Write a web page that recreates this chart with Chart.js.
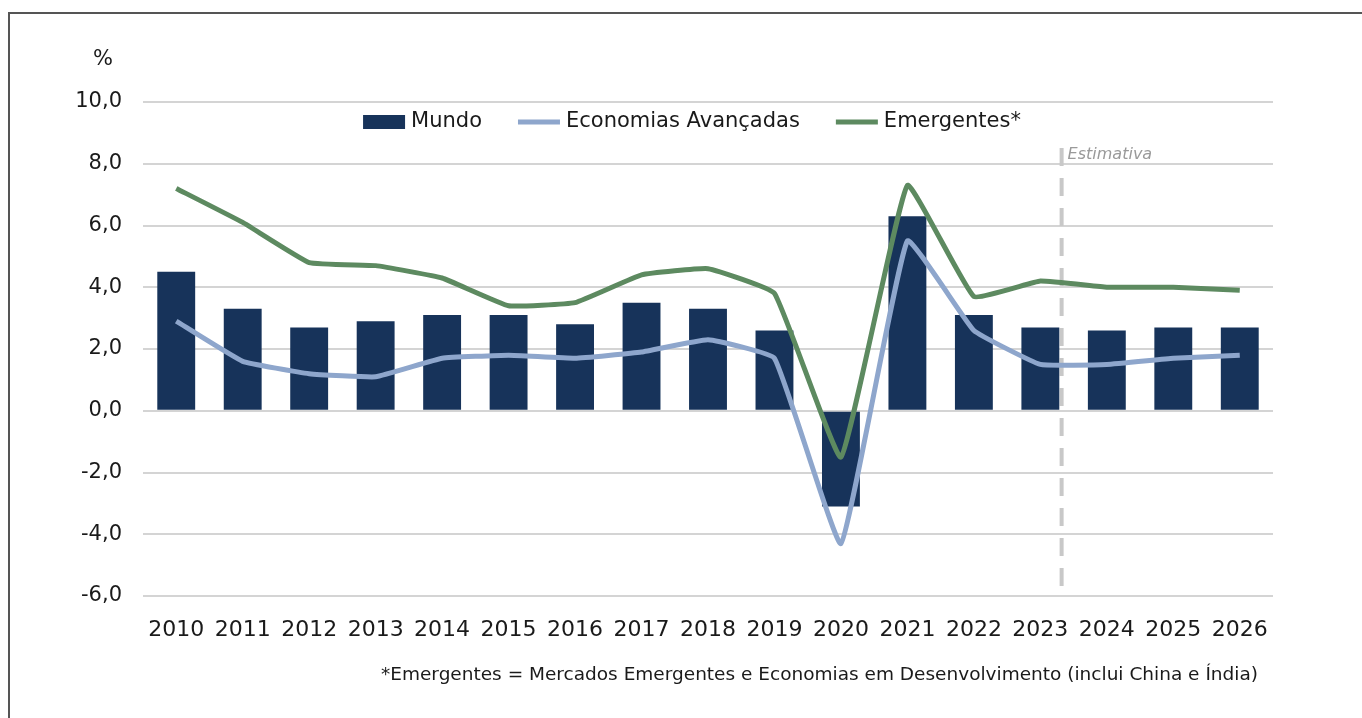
<!DOCTYPE html>
<html>
<head>
<meta charset="utf-8">
<script src="https://cdn.jsdelivr.net/npm/chart.js@4/dist/chart.umd.min.js"></script>
<style>
  html, body { margin: 0; padding: 0; background: #fff; }
  #wrap { width: 1362px; height: 718px; }
</style>
</head>
<body>
<div id="wrap"><canvas id="growth"></canvas></div>
<script>
const years = ["2010","2011","2012","2013","2014","2015","2016","2017","2018","2019","2020","2021","2022","2023","2024","2025","2026"];
const mundo = [4.5, 3.3, 2.7, 2.9, 3.1, 3.1, 2.8, 3.5, 3.3, 2.6, -3.1, 6.3, 3.1, 2.7, 2.6, 2.7, 2.7];
const avancadas = [2.9, 1.6, 1.2, 1.1, 1.7, 1.8, 1.7, 1.9, 2.3, 1.7, -4.3, 5.5, 2.6, 1.5, 1.5, 1.7, 1.8];
const emergentes = [7.2, 6.1, 4.8, 4.7, 4.3, 3.4, 3.5, 4.4, 4.6, 3.8, -1.5, 7.3, 3.7, 4.2, 4.0, 4.0, 3.9];
const yTicks = [-6, -4, -2, 0, 2, 4, 6, 8, 10];
const estimateAfter = 13.32; // between 2023 and 2024
const footnote = "*Emergentes = Mercados Emergentes e Economias em Desenvolvimento (inclui China e Índia)";

const FONT = "'DejaVu Sans', Verdana, sans-serif";

// frame, legend inside the plot, "%" label, estimate marker, footnote
const extras = {
  id: 'extras',
  beforeDraw(chart) {
    const ctx = chart.ctx;
    ctx.save();
    ctx.fillStyle = '#fff';
    ctx.fillRect(0, 0, chart.width, chart.height);
    ctx.strokeStyle = '#555';
    ctx.lineWidth = 2;
    ctx.beginPath();
    ctx.moveTo(chart.width, 13);
    ctx.lineTo(9, 13);
    ctx.lineTo(9, chart.height);
    ctx.stroke();
    ctx.restore();
  },
  beforeDatasetsDraw(chart) {
    const {ctx, chartArea, scales} = chart;
    const x = scales.x.getPixelForValue(estimateAfter);
    ctx.save();
    ctx.strokeStyle = '#c8c8c8';
    ctx.lineWidth = 4;
    ctx.setLineDash([18, 12]);
    ctx.beginPath();
    ctx.moveTo(x, chartArea.top + 46);
    ctx.lineTo(x, chartArea.bottom);
    ctx.stroke();
    ctx.restore();
  },
  afterDraw(chart) {
    const {ctx, chartArea, scales} = chart;
    ctx.save();

    // legend
    const boxW = 42, gap = 6, spacing = 36;
    ctx.font = "21px " + FONT;
    const items = chart.data.datasets.map(ds => ({
      label: ds.label, color: ds.borderColor || ds.backgroundColor, bar: ds.type === 'bar',
      w: boxW + gap + ctx.measureText(ds.label).width
    }));
    const total = items.reduce((s, it) => s + it.w, 0) + spacing * (items.length - 1);
    let lx = (chartArea.left + chartArea.right) / 2 - total / 2 - 16;
    const ly = chartArea.top + 20;
    ctx.textBaseline = 'middle';
    ctx.textAlign = 'left';
    items.forEach(it => {
      if (it.bar) {
        ctx.fillStyle = it.color;
        ctx.fillRect(lx, ly - 7, boxW, 14);
      } else {
        ctx.strokeStyle = it.color;
        ctx.lineWidth = 5;
        ctx.beginPath();
        ctx.moveTo(lx, ly);
        ctx.lineTo(lx + boxW, ly);
        ctx.stroke();
      }
      ctx.fillStyle = '#1a1a1a';
      ctx.fillText(it.label, lx + boxW + gap, ly);
      lx += it.w + spacing;
    });

    ctx.fillStyle = '#1a1a1a';
    ctx.font = "21px " + FONT;
    ctx.textAlign = 'center';
    ctx.fillText('%', chartArea.left - 40, chartArea.top - 42);

    const x = scales.x.getPixelForValue(estimateAfter);
    ctx.fillStyle = '#9a9a9a';
    ctx.font = "italic 16px " + FONT;
    ctx.textAlign = 'left';
    ctx.fillText('Estimativa', x + 6, chartArea.top + 53);

    ctx.fillStyle = '#1a1a1a';
    ctx.font = "18.5px " + FONT;
    ctx.textAlign = 'right';
    ctx.fillText(footnote, chartArea.right - 15, chartArea.bottom + 79);
    ctx.restore();
  }
};

new Chart(document.getElementById('growth'), {
  data: {
    labels: years,
    datasets: [
      {
        type: 'bar',
        label: 'Mundo',
        data: mundo,
        backgroundColor: '#17335a',
        borderWidth: 0,
        barPercentage: 0.57,
        categoryPercentage: 1,
        order: 3
      },
      {
        type: 'line',
        label: 'Economias Avançadas',
        data: avancadas,
        borderColor: '#8ea6cc',
        backgroundColor: '#8ea6cc',
        borderWidth: 5,
        pointRadius: 0,
        tension: 0.1,
        order: 2
      },
      {
        type: 'line',
        label: 'Emergentes*',
        data: emergentes,
        borderColor: '#5d8a60',
        backgroundColor: '#5d8a60',
        borderWidth: 5,
        pointRadius: 0,
        tension: 0.1,
        order: 1
      }
    ]
  },
  options: {
    responsive: true,
    maintainAspectRatio: false,
    animation: false,
    layout: {padding: {top: 102, right: 89, bottom: 62, left: 0}},
    plugins: {
      legend: {display: false},
      tooltip: {enabled: false}
    },
    scales: {
      x: {
        grid: {display: false},
        border: {display: false},
        ticks: {color: '#1a1a1a', font: {family: FONT, size: 22}, padding: 13, maxRotation: 0},
        afterFit(scale) { scale.height = 60; }
      },
      y: {
        min: -6,
        max: 10,
        afterBuildTicks(scale) { scale.ticks = yTicks.map(v => ({value: v})); },
        afterFit(scale) { scale.width = 143; },
        grid: {color: '#d4d4d4', lineWidth: 2, drawTicks: false},
        border: {display: false},
        ticks: {
          color: '#1a1a1a',
          font: {family: FONT, size: 21},
          padding: 21,
          callback: v => v.toFixed(1).replace('.', ',')
        }
      }
    }
  },
  plugins: [extras]
});
</script>
</body>
</html>
